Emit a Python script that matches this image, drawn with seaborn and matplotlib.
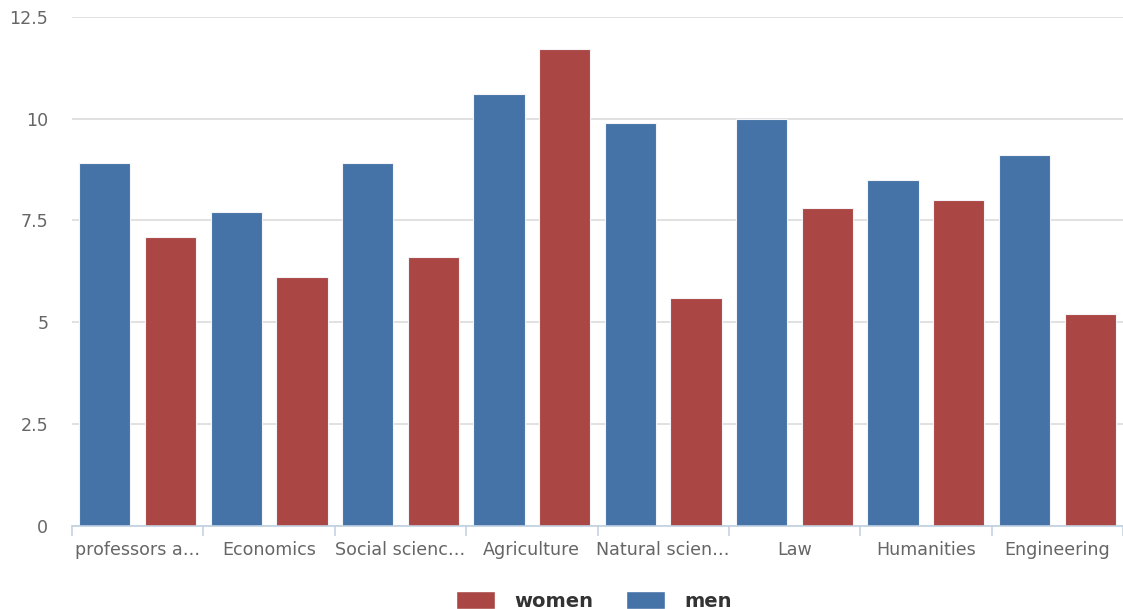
import matplotlib
matplotlib.use("Agg")
import matplotlib.pyplot as plt
from matplotlib.patches import Patch
from matplotlib.ticker import FixedLocator
import seaborn as sns
import pandas as pd

# Category labels as shown on the axis (long names are shortened)
fields = ["professors a…", "Economics", "Social scienc…", "Agriculture",
          "Natural scien…", "Law", "Humanities", "Engineering"]
men = [8.9, 7.7, 8.9, 10.6, 9.9, 10.0, 8.5, 9.1]
women = [7.1, 6.1, 6.6, 11.7, 5.6, 7.8, 8.0, 5.2]
y_ticks = [0, 2.5, 5, 7.5, 10, 12.5]
y_tick_labels = ["0", "2.5", "5", "7.5", "10", "12.5"]

series_order = ["men", "women"]
colors = {"men": "#4572A7", "women": "#AA4643"}

df = pd.DataFrame({
    "field": fields * 2,
    "value": men + women,
    "sex": ["men"] * len(fields) + ["women"] * len(fields),
})

sns.set_theme(style="white")
plt.rcParams["font.family"] = ["DejaVu Sans"]

fig = plt.figure(figsize=(11.23, 6.09), dpi=100)
ax = fig.add_axes([72 / 1123, 1 - 526 / 609, 1 - 72 / 1123, (526 - 16.7) / 609])

sns.barplot(data=df, x="field", y="value", hue="sex", hue_order=series_order,
            order=fields, palette=colors, saturation=1, width=1.0, gap=0.22,
            edgecolor="#F4F4F8", linewidth=0.8, legend=False, ax=ax,
            errorbar=None, zorder=3)

ax.set_xlim(-0.5, len(fields) - 0.5)
ax.set_ylim(0, 12.5)
ax.set_xlabel("")
ax.set_ylabel("")

# horizontal grid
ax.set_yticks(y_ticks)
ax.set_yticklabels(y_tick_labels)
ax.yaxis.grid(True, color="#D8D8D8", linewidth=1.1, zorder=0)
ax.xaxis.grid(False)
ax.set_axisbelow(True)

for side in ["top", "right", "left"]:
    ax.spines[side].set_visible(False)
ax.spines["bottom"].set_color("#C0D0E0")
ax.spines["bottom"].set_linewidth(1.2)
ax.spines["bottom"].set_zorder(4)

# category boundary ticks
ax.xaxis.set_minor_locator(FixedLocator([i - 0.5 for i in range(len(fields) + 1)]))
ax.tick_params(axis="x", which="minor", length=7.5, width=1.1, color="#C0D0E0",
               bottom=True)
ax.tick_params(axis="x", which="major", length=0, pad=11, labelsize=12.6,
               labelcolor="#666666")
ax.tick_params(axis="y", length=0, pad=17, labelsize=12.6, labelcolor="#666666")

handles = [Patch(facecolor=colors[s], edgecolor="white", label=s)
           for s in ["women", "men"]]
fig.legend(handles=handles, loc="center", bbox_to_anchor=(0.529, 1 - 601 / 609),
           ncol=2, frameon=False, handlelength=2.0, handleheight=1.0,
           handletextpad=1.0, columnspacing=1.65,
           prop={"size": 14, "weight": "bold"}, labelcolor="#333333")

fig.savefig("out.png", dpi=100)
